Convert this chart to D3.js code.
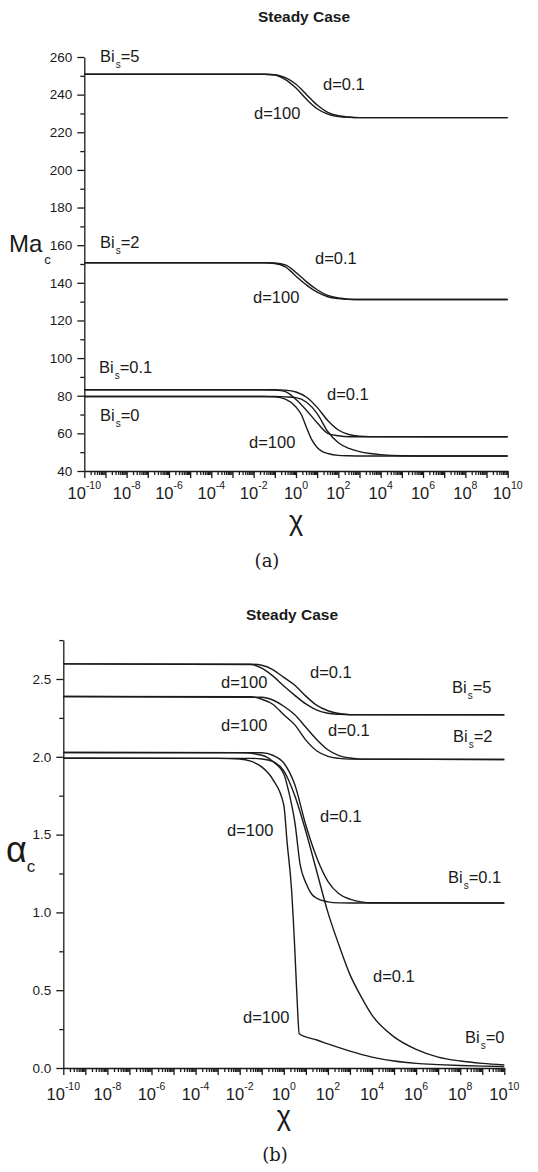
<!DOCTYPE html>
<html>
<head>
<meta charset="utf-8">
<script src="https://cdn.jsdelivr.net/npm/d3@7"></script>
<style>
  body { margin: 0; background: #fff; }
  svg { display: block; }
  text { font-family: "Liberation Sans", Arial, sans-serif; fill: #1a1a1a; }
</style>
</head>
<body>
<script>
// each curve: [log10(chi), value]

// (a) critical Marangoni number
var maBi5d100  = [[-10,250.8],[-1.5,250.8],[-1,250.4],[-0.5,248],[0,243.5],[0.5,237.5],[1,232.5],[1.5,229.6],[2,228.3],[2.5,227.9],[3,227.8],[10,227.8]]
var maBi5d01   = [[-10,250.8],[-1.5,250.8],[-1,250.6],[-0.5,249],[0,245.5],[0.5,240],[1,234.5],[1.5,230.6],[2,228.8],[2.5,228.1],[3,227.8],[10,227.8]]
var maBi2d100  = [[-10,150.7],[-1.5,150.7],[-1,150.3],[-0.5,148.5],[0,143.5],[0.5,138.8],[1,135],[1.5,132.6],[2,131.6],[2.5,131.2],[3,131.1],[10,131.1]]
var maBi2d01   = [[-10,150.7],[-1.5,150.7],[-1,150.5],[-0.5,149.5],[0,145.5],[0.5,140.5],[1,136.3],[1.5,133.3],[2,131.9],[2.5,131.3],[3,131.1],[10,131.1]]
var maBi01d100 = [[-10,83.2],[-1.5,83.2],[-1,83],[-0.5,82.2],[0,78],[0.5,72.2],[1,65.6],[1.5,60],[2,58.7],[2.5,58.2],[10,58.2]]
var maBi01d01  = [[-10,83.2],[-1,83.2],[-0.5,83],[0,82],[0.5,79.2],[1,73.8],[1.5,66.8],[2,61.8],[2.5,59.4],[3,58.5],[3.5,58.25],[10,58.2]]
var maBi0d100  = [[-10,79.6],[-1.5,79.6],[-1,79.4],[-0.5,78.2],[0,74],[0.25,70],[0.5,63],[0.75,56.5],[1,52.5],[1.25,50.3],[1.5,49.3],[2,48.3],[2.5,48.1],[3,48],[10,48]]
var maBi0d01   = [[-10,79.6],[-1,79.6],[-0.5,79.4],[0,79],[0.5,76.5],[1,70.5],[1.5,61],[2,55],[2.5,52],[3,50.3],[3.5,49.3],[4,48.7],[5,48.1],[6,48],[10,48]]

// (b) critical wavenumber
var alBi5d100  = [[-10,2.597],[-1.5,2.593],[-1,2.57],[-0.5,2.52],[0,2.455],[0.5,2.395],[1,2.34],[1.5,2.3],[2,2.28],[2.5,2.273],[3,2.27],[10,2.27]]
var alBi5d01   = [[-10,2.597],[-1.5,2.595],[-1,2.588],[-0.5,2.56],[0,2.51],[0.5,2.46],[1,2.39],[1.5,2.33],[2,2.296],[2.5,2.278],[3,2.271],[10,2.27]]
var alBi2d100  = [[-10,2.388],[-1.5,2.386],[-1,2.37],[-0.5,2.338],[0,2.27],[0.5,2.205],[1,2.107],[1.5,2.037],[2,2.003],[2.5,1.99],[3,1.985],[10,1.983]]
var alBi2d01   = [[-10,2.388],[-1,2.383],[-0.5,2.365],[0,2.325],[0.5,2.27],[1,2.19],[1.5,2.11],[2,2.045],[2.5,2.008],[3,1.992],[3.5,1.985],[10,1.983]]
var alBi01d100 = [[-10,2.028],[-2,2.027],[-1,2.01],[-0.5,1.97],[0,1.89],[0.25,1.76],[0.5,1.58],[0.75,1.3],[1,1.19],[1.25,1.12],[1.5,1.09],[2,1.068],[2.5,1.061],[3,1.06],[10,1.06]]
var alBi01d01  = [[-10,2.028],[-1,2.026],[-0.5,2.01],[0,1.96],[0.5,1.82],[1,1.56],[1.5,1.35],[2,1.2],[2.5,1.12],[3,1.085],[3.5,1.068],[4,1.062],[10,1.06]]
var alBi0d100  = [[-10,1.991],[-3,1.99],[-2,1.986],[-1.5,1.972],[-1,1.935],[-0.5,1.855],[0,1.69],[0.15,1.45],[0.35,1.15],[0.5,0.76],[0.6,0.45],[0.7,0.22],[0.9,0.205],[1.5,0.18],[2,0.155],[3,0.108],[4,0.07],[5,0.045],[6,0.03],[7,0.022],[8,0.016],[9,0.012],[10,0.01]]
var alBi0d01   = [[-10,1.991],[-1.5,1.99],[-1,1.986],[-0.5,1.97],[0,1.91],[0.5,1.75],[1,1.52],[1.5,1.26],[2,1],[2.5,0.79],[3,0.6],[3.5,0.46],[4,0.34],[5,0.2],[6,0.12],[7,0.07],[8,0.045],[9,0.03],[10,0.02]]

// axis ticks
var decades   = d3.range(-10, 11)
var labelExps = d3.range(-10, 11, 2)
var maMajor = d3.range(40, 261, 20)
var maMinor = d3.range(50, 260, 20)
var alMajor = [0, 0.5, 1, 1.5, 2, 2.5]
var alMinor = [0.25, 0.75, 1.25, 1.75, 2.25, 2.75]

// curve labels: [text, subscript, rest, x, y]
var maLabels = [
  ['Bi', 's', '=5', 100, 62], ['d=0.1', '', '', 323, 90], ['d=100', '', '', 254, 119],
  ['Bi', 's', '=2', 100, 248], ['d=0.1', '', '', 315, 264], ['d=100', '', '', 253, 303],
  ['Bi', 's', '=0.1', 99, 373], ['d=0.1', '', '', 327, 400],
  ['Bi', 's', '=0', 100, 421], ['d=100', '', '', 249, 448]
]
var alLabels = [
  ['d=0.1', '', '', 310, 678], ['d=100', '', '', 221, 688], ['Bi', 's', '=5', 452, 693],
  ['d=100', '', '', 221, 731], ['d=0.1', '', '', 328, 736], ['Bi', 's', '=2', 453, 742],
  ['d=0.1', '', '', 320, 822], ['d=100', '', '', 227, 836], ['Bi', 's', '=0.1', 448, 883],
  ['d=0.1', '', '', 373, 982], ['d=100', '', '', 243, 1023], ['Bi', 's', '=0', 465, 1043]
]

var svg = d3.select('body').append('svg').attr('width', 538).attr('height', 1172)

function panel(cfg) {
  var x = d3.scaleLog().domain([1e-10, 1e10]).range(cfg.xr)
  var y = d3.scaleLinear().domain(cfg.yd).range(cfg.yr)
  var g = svg.append('g')

  var line = d3.line()
    .x(function (d) { return x(Math.pow(10, d[0])) })
    .y(function (d) { return y(d[1]) })
    .curve(d3.curveMonotoneX)

  cfg.series.forEach(function (s) {
    g.append('path').attr('d', line(s))
      .attr('fill', 'none').attr('stroke', '#1a1a1a').attr('stroke-width', 1.4)
  })

  // bottom axis: decade ticks + minor ticks
  var minors = []
  decades.slice(0, -1).forEach(function (e) {
    for (var k = 2; k < 10; k++) minors.push(k * Math.pow(10, e))
  })
  var xb = g.append('g').attr('transform', 'translate(0,' + cfg.yr[0] + ')')
  xb.call(d3.axisBottom(x).tickValues(decades.map(function (e) { return Math.pow(10, e) }))
    .tickSize(7).tickSizeOuter(0).tickFormat(''))
  xb.append('g').call(d3.axisBottom(x).tickValues(minors).tickSize(4).tickSizeOuter(0).tickFormat(''))
    .select('.domain').remove()

  var yl = g.append('g').attr('transform', 'translate(' + cfg.xr[0] + ',0)')
  yl.call(d3.axisLeft(y).tickValues(cfg.major).tickSize(7).tickSizeOuter(0).tickFormat(cfg.fmt))
  yl.append('g').call(d3.axisLeft(y).tickValues(cfg.minor).tickSize(4).tickSizeOuter(0).tickFormat(''))
    .select('.domain').remove()
  yl.selectAll('text').attr('font-size', 13.5).attr('font-family', '"Liberation Sans", Arial, sans-serif')
    .attr('fill', '#1a1a1a').attr('x', -12)

  g.selectAll('.domain, .tick line').attr('stroke', '#1a1a1a').attr('stroke-width', 1.3)

  // 10^n labels
  labelExps.forEach(function (e) {
    var t = g.append('text').attr('x', x(Math.pow(10, e))).attr('y', cfg.yr[0] + cfg.tickDy)
      .attr('text-anchor', 'middle').attr('font-size', 16.5)
    t.append('tspan').text('10')
    t.append('tspan').attr('dy', -10.5).attr('font-size', 10.5).text(String(e))
  })

  cfg.labels.forEach(function (l) {
    var t = g.append('text').attr('x', l[3]).attr('y', l[4]).attr('font-size', 16.5)
    t.append('tspan').text(l[0])
    if (l[1]) {
      t.append('tspan').attr('dy', 6).attr('dx', 1).attr('font-size', 10).text(l[1])
      t.append('tspan').attr('dy', -6).attr('dx', 0).text(l[2])
    }
  })

  g.append('text').attr('x', (cfg.xr[0] + cfg.xr[1]) / 2).attr('y', cfg.chiY)
    .attr('text-anchor', 'middle').attr('font-size', 27).text('χ')
  g.append('text').attr('x', cfg.titleX).attr('y', cfg.titleY)
    .attr('text-anchor', 'middle').attr('font-size', 15.5).attr('font-weight', 'bold').text('Steady Case')
  g.append('text').attr('x', cfg.capX).attr('y', cfg.capY)
    .attr('text-anchor', 'middle').attr('font-size', 18)
    .style('font-family', '"DejaVu Serif", "Liberation Serif", serif').text(cfg.cap)
  return g
}

var ga = panel({
  xr: [84.3, 507.7], yd: [40, 260], yr: [471, 57],
  major: maMajor, minor: maMinor, fmt: d3.format('d'), tickDy: 28,
  series: [maBi5d100, maBi5d01, maBi2d100, maBi2d01, maBi01d100, maBi01d01, maBi0d100, maBi0d01],
  labels: maLabels, chiY: 530, titleX: 304, titleY: 22, capX: 267, capY: 567, cap: '(a)'
})
var ya = ga.append('text').attr('x', 9).attr('y', 252).attr('font-size', 24)
ya.append('tspan').text('Ma')
ya.append('tspan').attr('dx', 2).attr('dy', 12).attr('font-size', 13).text('c')

var gb = panel({
  xr: [63.3, 504.3], yd: [0, 2.75], yr: [1068, 640.1],
  major: alMajor, minor: alMinor, fmt: d3.format('.1f'), tickDy: 32,
  series: [alBi5d100, alBi5d01, alBi2d100, alBi2d01, alBi01d100, alBi01d01, alBi0d100, alBi0d01],
  labels: alLabels, chiY: 1125, titleX: 292, titleY: 620, capX: 275, capY: 1161, cap: '(b)'
})
var yb = gb.append('text').attr('x', 6).attr('y', 862).attr('font-size', 36)
yb.append('tspan').text('α')
yb.append('tspan').attr('dx', 0).attr('dy', 10).attr('font-size', 17).text('c')
</script>
</body>
</html>
